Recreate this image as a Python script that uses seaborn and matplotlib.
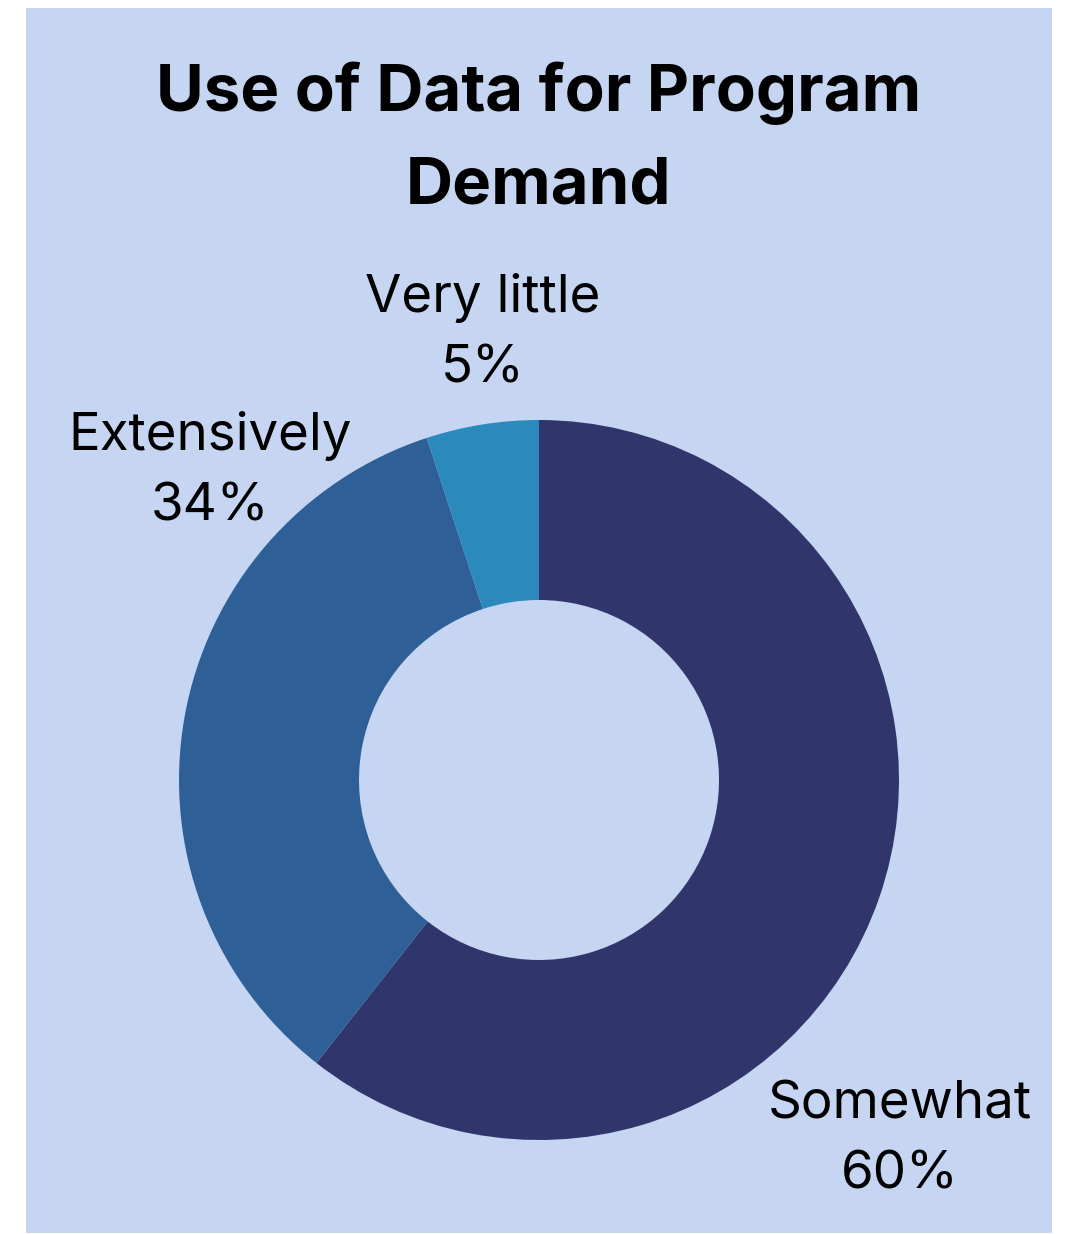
import matplotlib
matplotlib.use("Agg")
import matplotlib.pyplot as plt
import seaborn as sns

sns.set_theme(style="white")
plt.rcParams['font.family'] = ['Inter', 'DejaVu Sans']

categories = ["Somewhat", "Extensively", "Very little"]
values = [60, 34, 5]
colors = ["#30356B", "#2E5F97", "#2B8ABB"]
title = "Use of Data for Program\nDemand"

W, H = 1068, 1234
fig = plt.figure(figsize=(W / 100, H / 100), dpi=100, facecolor="white")
bg = fig.add_axes([26 / W, 1 - 1233 / H, (1052 - 26) / W, (1233 - 8) / H], zorder=-5)
bg.set_facecolor("#C5D5F2")
bg.set_xticks([])
bg.set_yticks([])
for s in bg.spines.values():
    s.set_visible(False)

cx, cy, R = 539, 780, 360
ax = fig.add_axes([(cx - R) / W, 1 - (cy + R) / H, 2 * R / W, 2 * R / H], zorder=1)
ax.set_facecolor("none")
wedges, _ = ax.pie(values, colors=colors, startangle=90, counterclock=False,
                   radius=1.0, wedgeprops=dict(width=0.5, edgecolor="none"))
ax.set_xlim(-1, 1)
ax.set_ylim(-1, 1)
ax.set_aspect("equal")
ax.axis("off")

label_pos = [(1.003, -1.0), (-0.914, 0.858), (-0.156, 1.24)]
for cat, v, (lx, ly) in zip(categories, values, label_pos):
    ax.text(lx, ly, f"{cat}\n{v}%", ha="center", va="center", fontsize=38,
            color="black", linespacing=1.57, clip_on=False)

fig.text(539 / W, 1 - 139 / H, title, ha="center", va="center", fontsize=47,
         fontweight="bold", color="black", linespacing=1.67)

fig.savefig("out.png", dpi=100, facecolor="white")
